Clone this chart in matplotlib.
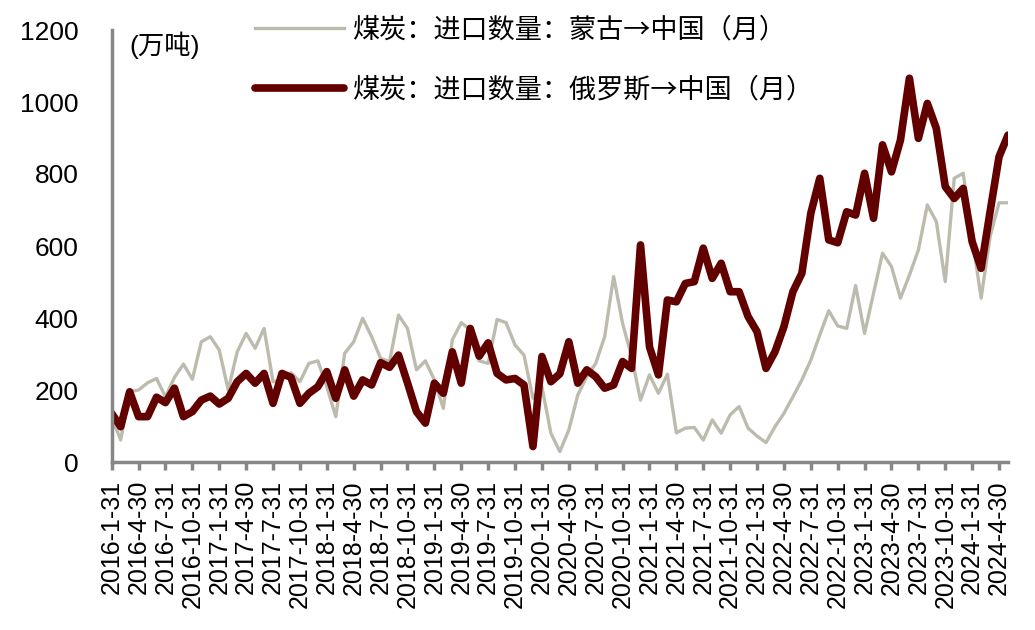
import numpy as np
import matplotlib.pyplot as plt

plt.rcParams['font.family'] = ['Liberation Sans', 'Noto Sans CJK SC', 'DejaVu Sans']

# monthly coal imports into China, 2016-01 .. 2024-05 (10k tonnes)
months = [f"{y}-{m:02d}" for y in range(2016, 2025) for m in range(1, 13)][:101]

mongolia = [125, 61, 195, 200, 220, 232, 181, 235, 272, 230, 334, 348, 311, 200, 306, 357,
            316, 371, 223, 228, 248, 223, 274, 281, 209, 126, 302, 334, 399, 348, 288, 279,
            408, 371, 256, 281, 228, 149, 339, 387, 367, 281, 274, 396, 387, 325, 297, 177,
            209, 80, 29, 89, 186, 237, 274, 348, 515, 385, 293, 172, 242, 191, 244, 81,
            94, 96, 61, 117, 80, 131, 154, 94, 72, 54, 98, 135, 181, 228, 283, 353,
            420, 378, 371, 490, 357, 469, 580, 543, 455, 519, 589, 714, 668, 501, 788, 802,
            626, 455, 626, 720, 720]

russia = [135, 98, 195, 126, 126, 180, 165, 205, 126, 140, 172, 183, 161, 177, 223, 246,
          219, 246, 163, 246, 235, 163, 191, 209, 251, 177, 256, 183, 228, 214, 276, 263,
          297, 220, 140, 108, 219, 191, 306, 219, 371, 294, 331, 246, 228, 232, 214, 43,
          293, 223, 245, 334, 219, 256, 237, 205, 214, 279, 260, 603, 320, 242, 450, 445,
          496, 501, 594, 510, 552, 473, 473, 404, 362, 260, 306, 376, 473, 524, 691, 788,
          617, 609, 695, 686, 802, 677, 881, 806, 894, 1066, 899, 996, 927, 765, 732, 760,
          612, 538, 695, 848, 908]

tick_labels = []
for y in range(2016, 2025):
    for m, d in [(1, 31), (4, 30), (7, 31), (10, 31)]:
        tick_labels.append(f"{y}-{m}-{d}")
tick_labels = tick_labels[:34]

x = np.arange(len(months))

fig = plt.figure(figsize=(10.35, 6.3), dpi=100)
ax = fig.add_axes([111.7/1035, 168/630, (1008-111.7)/1035, 432/630])

ax.plot(x, mongolia, color='#BDBBAE', lw=2.4, label='煤炭：进口数量：蒙古→中国（月）')
ax.plot(x, russia, color='#620000', lw=5.5, solid_capstyle='round',
        label='煤炭：进口数量：俄罗斯→中国（月）')

ax.set_xlim(0, 100)
ax.set_ylim(0, 1200)
ax.set_yticks(range(0, 1201, 200))
ax.set_xticks(np.arange(0, 100, 3))
ax.set_xticklabels(tick_labels, rotation=90)

for s in ['top', 'right']:
    ax.spines[s].set_visible(False)
for s in ['left', 'bottom']:
    ax.spines[s].set_color('#878787')
    ax.spines[s].set_linewidth(2.5)

ax.tick_params(axis='x', length=6, width=2.5, color='#878787', labelsize=18, pad=7)
ax.tick_params(axis='y', length=0, labelsize=19, pad=24)

ax.text(0.02, 0.997, '(万吨)', transform=ax.transAxes, fontsize=19, va='top', ha='left')

leg = ax.legend(loc='upper left', bbox_to_anchor=(255/1035, 1 - 16/630),
                bbox_transform=fig.transFigure, frameon=False,
                prop={'family': ['Noto Sans CJK SC', 'DejaVu Sans'], 'size': 19.5},
                handlelength=3.3, handletextpad=0.3, labelspacing=1.23,
                borderpad=0, borderaxespad=0)

plt.savefig('out.png', dpi=100)
